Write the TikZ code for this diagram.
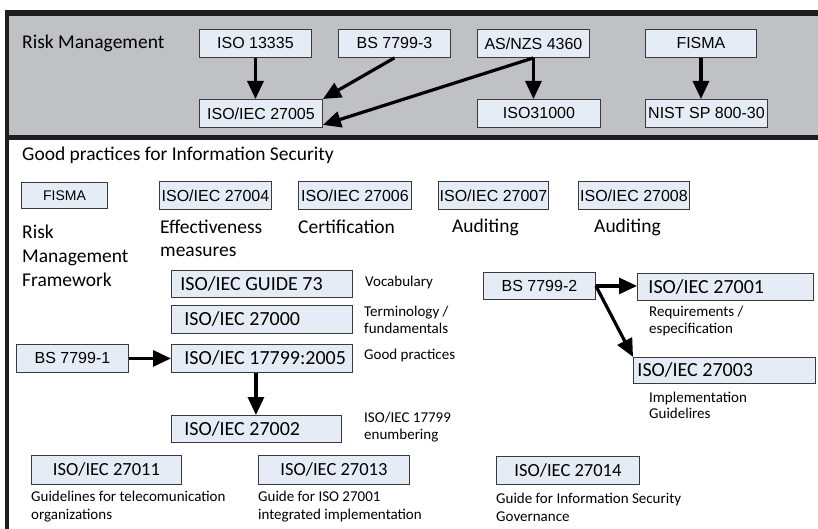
\documentclass[tikz,border=0pt]{standalone}
\usepackage{fontspec}
\setmainfont{Carlito}
\newfontfamily\arialf{Liberation Sans}
\usetikzlibrary{arrows.meta,calc}
\definecolor{panelgray}{HTML}{C0C1C4}
\definecolor{boxfill}{HTML}{E6ECF6}
\definecolor{boxline}{HTML}{3A3A3A}
\definecolor{framec}{HTML}{1E1E1E}
\newcommand{\lefttxt}[3]{\makebox[#1pt][l]{\hspace{#2pt}#3}}
\begin{document}
\begin{tikzpicture}[x=1pt,y=-1pt,
  abox/.style={draw=boxline, fill=boxfill, line width=0.9pt, inner sep=0pt, anchor=north west, font=\arialf\fontsize{16}{18}\selectfont},
  cbox/.style={draw=boxline, fill=boxfill, line width=0.9pt, inner sep=0pt, anchor=north west, font=\fontsize{20}{22}\selectfont},
  big/.style={inner sep=0pt, anchor=west, align=left, font=\fontsize{19.5}{24}\selectfont},
  small/.style={inner sep=0pt, anchor=west, align=left, font=\fontsize{15}{16.5}\selectfont},
  arr/.style={line width=3.2pt, -{Triangle[length=18pt,width=16pt]}},
]
\useasboundingbox (0,0) rectangle (818,529);
% frame
\path[fill=panelgray] (9,16) rectangle (818,136);
\draw[framec, line width=6pt] (5,13) -- (818,13);
\draw[framec, line width=4pt] (7,10) -- (7,529);
\draw[framec, line width=5pt] (5,137.5) -- (818,137.5);

% Risk management
\node[big] (rmtitle) at (22,43) {Risk Management};
\node[abox, minimum width=112pt, minimum height=28pt] (iso13335) at (199,29) {ISO 13335};
\node[abox, minimum width=112pt, minimum height=28pt] (bs77993) at (338,29) {BS 7799-3};
\node[abox, minimum width=112pt, minimum height=28pt] (asnzs) at (477,29) {AS/NZS 4360};
\node[abox, minimum width=111pt, minimum height=28pt] (fismatop) at (645,29) {FISMA};
\node[abox, minimum width=123pt, minimum height=28pt] (iso27005) at (199,99) {ISO/IEC 27005};
\node[abox, minimum width=123pt, minimum height=28pt] (iso31000) at (477,99) {ISO31000};
\node[abox, minimum width=122pt, minimum height=28pt] (nist) at (645,99) {NIST SP 800-30};

\draw[arr] (iso13335.south) -- (iso13335.south |- iso27005.north);
\draw[arr] (bs77993.south) -- (iso27005.north east);
\draw[arr] (asnzs.south) -- ($(iso27005.south east)+(0,-3)$);
\draw[arr] (asnzs.south) -- (asnzs.south |- iso31000.north);
\draw[arr] (fismatop.south) -- (fismatop.south |- nist.north);

% Good practices
\node[big] (gptitle) at (22,155) {Good practices for Information Security};
\node[abox, font=\arialf\fontsize{14}{16}\selectfont, minimum width=86pt, minimum height=26pt] (fismarow) at (21,182) {FISMA};
\node[abox, minimum width=112pt, minimum height=28pt] (iso27004) at (159,181) {ISO/IEC 27004};
\node[abox, minimum width=113pt, minimum height=28pt] (iso27006) at (298,181) {ISO/IEC 27006};
\node[abox, minimum width=110pt, minimum height=28pt] (iso27007) at (438,181) {ISO/IEC 27007};
\node[abox, minimum width=111pt, minimum height=28pt] (iso27008) at (578,181) {ISO/IEC 27008};

\node[big] (lblrmf) at (22,256) {Risk\\Management\\Framework};
\node[big, font=\fontsize{19.5}{23}\selectfont] (lbleff) at (160,238.5) {Effectiveness\\measures};
\node[big] (lblcert) at (298,227) {Certification};
\node[big] (lblaud1) at (452,227) {Auditing};
\node[big] (lblaud2) at (594,227) {Auditing};

\node[cbox, minimum width=181pt, minimum height=27pt] (guide73) at (171,270) {\lefttxt{181}{9}{ISO/IEC GUIDE 73}};
\node[cbox, minimum width=181pt, minimum height=28pt] (iso27000) at (171,305) {\lefttxt{181}{13}{ISO/IEC 27000}};
\node[cbox, minimum width=181pt, minimum height=28pt] (iso17799) at (171,344) {\lefttxt{181}{13}{ISO/IEC 17799:2005}};
\node[cbox, minimum width=170pt, minimum height=27pt] (iso27002) at (171,415) {\lefttxt{170}{13}{ISO/IEC 27002}};
\node[abox, minimum width=112pt, minimum height=28pt] (bs77991) at (16,344) {BS 7799-1};

\node[small] (lblvoc) at (365,283) {Vocabulary};
\node[small] (lblterm) at (364,320) {Terminology /\\fundamentals};
\node[small] (lblgood) at (364,355) {Good practices};
\node[small] (lblenum) at (364,427) {ISO/IEC 17799\\enumbering};

\coordinate (a17) at ($(iso17799.south)+(-6,0)$);
\draw[arr] (bs77991.east) -- (iso17799.west);
\draw[arr] (a17) -- (a17 |- iso27002.north);

% right group
\node[abox, minimum width=112pt, minimum height=27pt] (bs77992) at (483,272) {BS 7799-2};
\node[cbox, minimum width=176pt, minimum height=27pt] (iso27001) at (637,273) {\lefttxt{176}{11}{ISO/IEC 27001}};
\node[cbox, minimum width=182pt, minimum height=26pt] (iso27003) at (633,357) {\lefttxt{182}{4}{ISO/IEC 27003}};
\node[small, font=\fontsize{15}{17.5}\selectfont] (lblreq) at (649,321) {Requirements /\\especification};
\node[small, font=\fontsize{15}{16.5}\selectfont] (lblimpl) at (649,405.5) {Implementation\\Guidelires};

\draw[arr] (bs77992.east) -- (bs77992.east -| iso27001.west);
\draw[arr] (bs77992.east) -- (iso27003.north west);

% bottom row
\node[cbox, font=\fontsize{18.5}{21}\selectfont, minimum width=150pt, minimum height=29pt] (iso27011) at (31,455) {ISO/IEC 27011};
\node[cbox, font=\fontsize{18.5}{21}\selectfont, minimum width=151pt, minimum height=29pt] (iso27013) at (258,455) {ISO/IEC 27013};
\node[cbox, font=\fontsize{18.5}{21}\selectfont, minimum width=143pt, minimum height=28pt] (iso27014) at (496,456) {ISO/IEC 27014};
\node[small, font=\fontsize{15}{18}\selectfont] (lbl11) at (31,507) {Guidelines for telecomunication\\organizations};
\node[small, font=\fontsize{15}{18}\selectfont] (lbl13) at (258,507) {Guide for ISO 27001\\integrated implementation};
\node[small, font=\fontsize{15}{18}\selectfont] (lbl14) at (496,507) {Guide for Information Security\\Governance};
\end{tikzpicture}
\end{document}
